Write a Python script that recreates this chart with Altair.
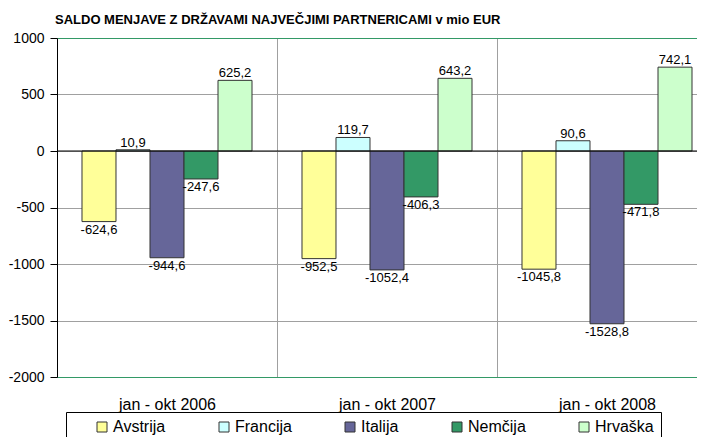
import altair as alt
import pandas as pd

periods = ["jan - okt 2006", "jan - okt 2007", "jan - okt 2008"]
countries = ["Avstrija", "Francija", "Italija", "Nemčija", "Hrvaška"]
avstrija = [-624.6, -952.5, -1045.8]
francija = [10.9, 119.7, 90.6]
italija = [-944.6, -1052.4, -1528.8]
nemcija = [-247.6, -406.3, -471.8]
hrvaska = [625.2, 643.2, 742.1]
colors = ["#FFFF99", "#CCFFFF", "#666699", "#339966", "#CCFFCC"]
y_ticks = [-2000, -1500, -1000, -500, 0, 500, 1000]
title_text = "SALDO MENJAVE Z DRŽAVAMI NAJVEČJIMI PARTNERICAMI v mio EUR"

series = [avstrija, francija, italija, nemcija, hrvaska]
rows = []
for c, vals in zip(countries, series):
    for p, v in zip(periods, vals):
        rows.append({"period": p, "country": c, "value": v})
df = pd.DataFrame(rows)

FONT = "Liberation Sans"

x = alt.X(
    "period:N", sort=periods,
    scale=alt.Scale(paddingInner=0, paddingOuter=0),
    axis=alt.Axis(title=None, labelAngle=0, domain=False, ticks=False, grid=True,
                  tickBand="extent", gridColor="#a0a0a0", labelFontSize=16,
                  labelPadding=19, labelColor="black", labelFont=FONT),
)
xo = alt.XOffset("country:N", sort=countries,
                 scale=alt.Scale(paddingInner=0, paddingOuter=0.735))
y = alt.Y(
    "value:Q",
    scale=alt.Scale(domain=[-2000, 1000], nice=False, zero=False),
    axis=alt.Axis(title=None, values=y_ticks, labelExpr="toString(datum.value)",
                  domainColor="black", tickColor="black", tickSize=7, labelPadding=6,
                  labelFontSize=14, labelColor="black", labelFont=FONT,
                  gridColor=alt.condition("datum.value == 1000 || datum.value == -2000",
                                          alt.value("#339966"), alt.value("#a0a0a0")),
                  minExtent=49, maxExtent=49),
)
color = alt.Color(
    "country:N", sort=countries,
    scale=alt.Scale(domain=countries, range=colors),
    legend=alt.Legend(
        title=" ", titleOrient="left", titleFontSize=1, titlePadding=21,
        orient="none", legendX=9, legendY=374, direction="horizontal",
        symbolType="square", symbolSize=100, symbolStrokeColor="#333333",
        symbolStrokeWidth=1, labelFontSize=16, labelFont=FONT, labelColor="black",
        labelOffset=3, columnPadding=50, padding=7, strokeColor="black",
        labelExpr="datum.label == 'Hrvaška' ? datum.label + '\u00a0\u00a0\u00a0\u00a0\u00a0\u00a0\u00a0\u00a0' : datum.label",
    ),
)

base = alt.Chart(df).transform_calculate(
    label="replace(toString(datum.value), '.', ',')"
)

bars = base.mark_bar(stroke="#333333", strokeWidth=1).encode(x=x, xOffset=xo, y=y, color=color)

zero = alt.Chart(pd.DataFrame({"v": [0]})).mark_rule(color="black", strokeWidth=1).encode(
    y=alt.datum(0)
)

pos = base.transform_filter("datum.value >= 0").mark_text(
    baseline="alphabetic", dy=-3, fontSize=13, font=FONT, color="black"
).encode(x=x, xOffset=xo, y=y, text="label:N")

neg = base.transform_filter("datum.value < 0").mark_text(
    baseline="top", dy=2, fontSize=13, font=FONT, color="black"
).encode(x=x, xOffset=xo, y=y, text="label:N")

chart = alt.layer(bars, zero, pos, neg).properties(
    width=660,
    height=339,
    autosize=alt.AutoSizeParams(type="none"),
    padding={"left": 49, "top": 30, "right": -20, "bottom": 62},
    title=alt.TitleParams(text=title_text, anchor="start", frame="group", fontSize=13,
                          font=FONT, fontWeight="bold", offset=4, dx=-2,
                          color="black"),
).configure_view(stroke="transparent", strokeWidth=0)

chart.save("out.html", embed_options={"renderer": "svg", "actions": False})
